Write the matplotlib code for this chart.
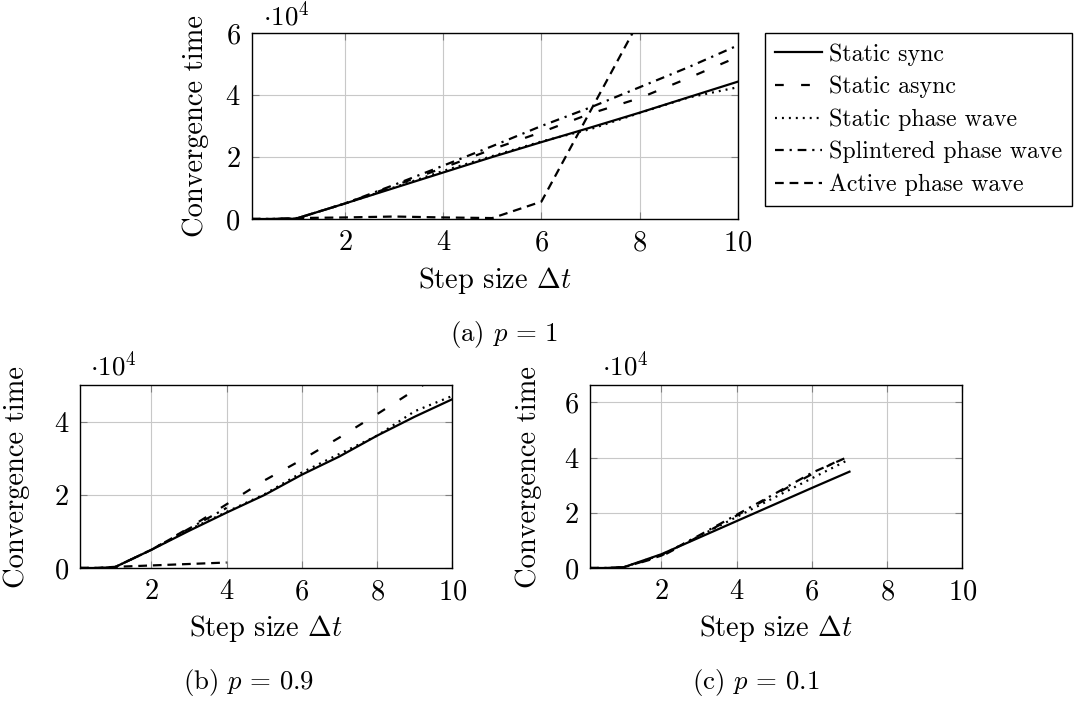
import matplotlib
matplotlib.use('Agg')
import matplotlib.pyplot as plt
import numpy as np

plt.rcParams['font.family'] = 'cmr10'
plt.rcParams['mathtext.fontset'] = 'cm'
plt.rcParams['axes.formatter.use_mathtext'] = True
plt.rcParams['lines.scale_dashes'] = False

# Data (convergence time vs step size)
series_names = ['Static sync', 'Static async', 'Static phase wave',
                'Splintered phase wave', 'Active phase wave']

# (a) p = 1
x_a = [0.1, 0.5, 1, 2, 3, 4, 5, 6, 7, 8, 9, 10]
a_sync = [0, 0, 100, 5000, 10000, 15000, 20000, 24800, 29500, 34300, 39300, 44300]
a_async = [0, 0, 100, 5000, 10700, 16500, 22500, 28000, 34000, 39000, 45500, 52300]
a_phase = [0, 0, 100, 5000, 10200, 15500, 20300, 25000, 29000, 34200, 39200, 42500]
a_splint = [0, 0, 100, 5000, 11000, 17200, 23500, 30000, 36000, 42500, 49000, 56000]
x_a_active = [0.1, 0.5, 1, 2, 3, 4, 5, 6, 7, 8]
a_active = [0, 0, 300, 500, 800, 500, 300, 5600, 34900, 64200]

# (b) p = 0.9
x_b = [0.1, 0.5, 1, 2, 3, 4, 5, 6, 7, 8, 9, 10]
b_sync = [0, 0, 100, 5000, 10200, 15200, 20000, 25600, 30600, 36300, 41500, 46300]
b_async = [0, 0, 100, 5000, 11000, 17500, 24000, 29700, 35800, 42200, 48800, 55000]
b_phase = [0, 0, 100, 5000, 10500, 15400, 20200, 26200, 31300, 36300, 43000, 47200]
x_b_short = [0.1, 0.5, 1, 2, 3, 4]
b_splint = [0, 0, 100, 5000, 10800, 16500]
b_active = [0, 0, 300, 700, 1100, 1500]

# (c) p = 0.1
x_c = [0.1, 0.5, 1, 2, 3, 4, 5, 6, 7]
c_sync = [0, 0, 300, 5000, 11000, 17000, 23000, 29000, 34900]
c_async = [0, 0, 200, 4200, 11500, 19000, 26500, 34000, 41000]
c_phase = [0, 0, 300, 4800, 11500, 18500, 25500, 32500, 39400]
c_splint = [0, 0, 200, 4500, 11800, 19300, 26800, 34500, 40500]

LW = 1.6
styles = {
    'Static sync': '-',
    'Static async': (0, (6.3, 12.5)),
    'Static phase wave': (0, (1.4, 3.6)),
    'Splintered phase wave': (0, (6.3, 4.2, 1.6, 4.2)),
    'Active phase wave': (0, (6.3, 4.2)),
}

W, H = 1080, 704
fig = plt.figure(figsize=(W / 100, H / 100), dpi=100)


def px_axes(left, top, right, bottom):
    return fig.add_axes([left / W, 1 - bottom / H, (right - left) / W, (bottom - top) / H])


def ftext(x, y, s, **kw):
    fig.text(x / W, 1 - y / H, s, **kw)


def style_ax(ax, ymax, yticks):
    ax.set_xlim(0.1, 10)
    ax.set_ylim(0, ymax)
    ax.set_xticks([2, 4, 6, 8, 10])
    ax.set_yticks(yticks)
    ax.grid(True, color='#c8c8c8', lw=0.8)
    ax.set_axisbelow(True)
    ax.tick_params(direction='in', top=True, right=True, length=5, width=0.8,
                   color='#808080', labelsize=20.5, pad=8)
    for s in ax.spines.values():
        s.set_linewidth(1.0)
        s.set_color('black')


def plot(ax, x, y, name):
    return ax.plot(x, np.array(y) / 1e4, color='black', lw=LW,
                   linestyle=styles[name], label=name)[0]


# panel (a)
ax_a = px_axes(251.7, 33, 737.8, 219)
handles = []
handles.append(plot(ax_a, x_a, a_sync, 'Static sync'))
handles.append(plot(ax_a, x_a, a_async, 'Static async'))
handles.append(plot(ax_a, x_a, a_phase, 'Static phase wave'))
handles.append(plot(ax_a, x_a, a_splint, 'Splintered phase wave'))
handles.append(plot(ax_a, x_a_active, a_active, 'Active phase wave'))
style_ax(ax_a, 6, [0, 2, 4, 6])

# panel (b)
ax_b = px_axes(80, 385, 452.3, 568)
plot(ax_b, x_b, b_sync, 'Static sync')
plot(ax_b, x_b, b_async, 'Static async')
plot(ax_b, x_b, b_phase, 'Static phase wave')
plot(ax_b, x_b_short, b_splint, 'Splintered phase wave')
plot(ax_b, x_b_short, b_active, 'Active phase wave')
style_ax(ax_b, 5.02, [0, 2, 4])

# panel (c)
ax_c = px_axes(590, 385, 962.3, 568)
plot(ax_c, x_c, c_sync, 'Static sync')
plot(ax_c, x_c, c_async, 'Static async')
plot(ax_c, x_c, c_phase, 'Static phase wave')
plot(ax_c, x_c, c_splint, 'Splintered phase wave')
style_ax(ax_c, 6.63, [0, 2, 4, 6])

# labels
fs = 20.5
ftext(196, 126, 'Convergence time', rotation=90, ha='center', va='center', fontsize=fs)
ftext(17, 476.5, 'Convergence time', rotation=90, ha='center', va='center', fontsize=fs)
ftext(529, 476.5, 'Convergence time', rotation=90, ha='center', va='center', fontsize=fs)
ftext(494.7, 280, r'Step size $\Delta t$', ha='center', va='center', fontsize=fs)
ftext(266, 628, r'Step size $\Delta t$', ha='center', va='center', fontsize=fs)
ftext(776, 628, r'Step size $\Delta t$', ha='center', va='center', fontsize=fs)
ftext(263, 25, r'$\cdot 10^4$', ha='left', va='baseline', fontsize=19.5)
ftext(90, 375, r'$\cdot 10^4$', ha='left', va='baseline', fontsize=19.5)
ftext(602, 375, r'$\cdot 10^4$', ha='left', va='baseline', fontsize=19.5)

cap = 19.3
ftext(503.8, 335, r'(a) $p\,=\,1$', ha='center', va='center', fontsize=cap)
ftext(249, 682, r'(b) $p\,=\,0.9$', ha='center', va='center', fontsize=cap)
ftext(756, 682, r'(c) $p\,=\,0.1$', ha='center', va='center', fontsize=cap)

leg = fig.legend(handles, series_names, loc='upper left',
                 bbox_to_anchor=(765 / W, 1 - 33.3 / H), frameon=True,
                 fancybox=False, edgecolor='black', framealpha=1, fontsize=17.2,
                 handlelength=1.95, handletextpad=0.3, labelspacing=0.42,
                 borderpad=0.42, borderaxespad=0)
leg.get_frame().set_linewidth(1.0)

fig.savefig('out.png', dpi=100)
